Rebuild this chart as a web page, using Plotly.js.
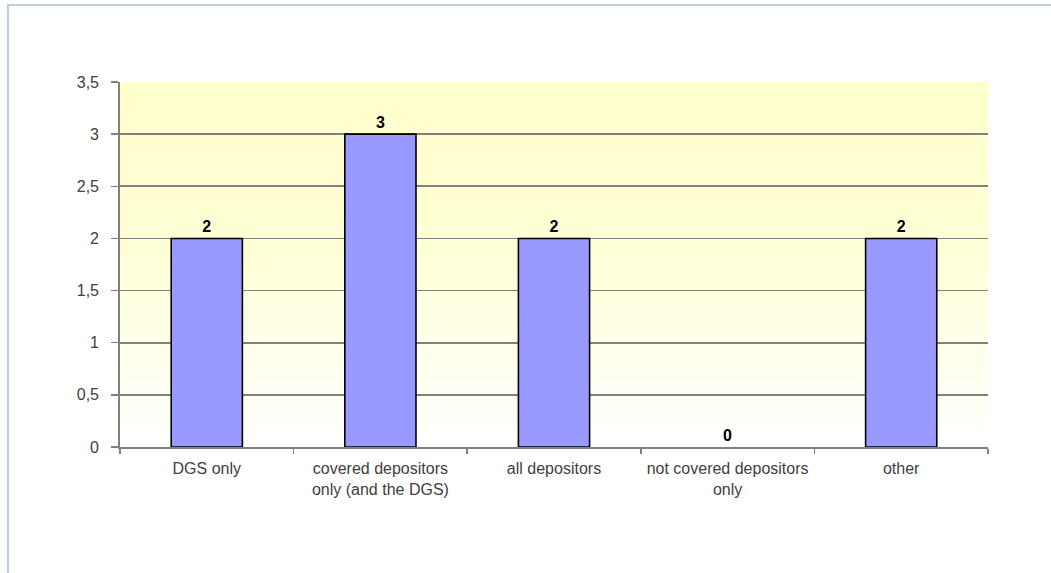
<!DOCTYPE html>
<html>
<head>
<meta charset="utf-8">
<script src="https://cdn.plot.ly/plotly-3.0.1.min.js"></script>
<style>
  html, body { margin: 0; padding: 0; background: #ffffff; overflow: hidden; }
  #frame { position: absolute; left: 7px; top: 4px; width: 1100px; height: 620px;
           border-top: 2px solid #b9cde5; border-left: 2px solid #b9cde5; pointer-events: none; z-index: 5; }
  #chart { position: absolute; left: 0; top: 0; width: 1051px; height: 573px; }
</style>
</head>
<body>
<div id="chart"></div>
<div id="frame"></div>
<script>
const categories = ["DGS only", "covered depositors<br>only (and the DGS)", "all depositors", "not covered depositors<br>only", "other"];
const values = [2, 3, 2, 0, 2];
const yTicks = [0, 0.5, 1, 1.5, 2, 2.5, 3, 3.5];

const gradSvg = '<svg xmlns="http://www.w3.org/2000/svg" width="10" height="100" preserveAspectRatio="none">' +
  '<defs><linearGradient id="g" x1="0" y1="0" x2="0" y2="1">' +
  '<stop offset="0" stop-color="#ffffcc"/><stop offset="0.45" stop-color="#ffffd6"/><stop offset="1" stop-color="#ffffff"/>' +
  '</linearGradient></defs><rect width="10" height="100" fill="url(#g)"/></svg>';
const gradUri = 'data:image/svg+xml;base64,' + btoa(gradSvg);

const trace = {
  type: 'bar',
  x: categories,
  y: values,
  text: values.map(String),
  textposition: 'outside',
  cliponaxis: false,
  textfont: { family: 'Liberation Sans, Arial, sans-serif', size: 16, color: '#000000', weight: 'bold' },
  marker: { color: '#9999ff', line: { color: '#000000', width: values.map(v => v === 0 ? 0 : 1.6) } },
  width: 0.41,
  hoverinfo: 'none'
};

const layout = {
  width: 1051,
  height: 573,
  margin: { l: 120, r: 63, t: 82, b: 126 },
  paper_bgcolor: 'rgba(0,0,0,0)',
  plot_bgcolor: 'rgba(0,0,0,0)',
  separators: ',.',
  showlegend: false,
  font: { family: 'Liberation Sans, Arial, sans-serif', size: 16, color: '#404040' },
  images: [{
    source: gradUri, xref: 'paper', yref: 'paper', x: 0, y: 1, sizex: 1, sizey: 1,
    sizing: 'stretch', layer: 'below', xanchor: 'left', yanchor: 'top'
  }],
  xaxis: {
    type: 'category',
    showline: true, linecolor: '#808080', linewidth: 1.8,
    ticks: 'outside', tickson: 'boundaries', ticklen: 5, tickcolor: '#808080', tickwidth: 1.5,
    showgrid: false, zeroline: false,
    ticklabelstandoff: 6,
    tickfont: { size: 16, color: '#404040' }
  },
  yaxis: {
    range: [0, 3.5],
    tickvals: yTicks,
    showline: true, linecolor: '#808080', linewidth: 1.8,
    ticks: 'outside', ticklen: 7, tickcolor: '#808080', tickwidth: 1.5,
    showgrid: true, gridcolor: '#808080', gridwidth: 1.8,
    zeroline: false,
    ticklabelstandoff: 9,
    tickfont: { size: 16, color: '#404040' }
  },
  bargap: 0.59
};

Plotly.newPlot('chart', [trace], layout, { staticPlot: true, displayModeBar: false });
</script>
</body>
</html>
